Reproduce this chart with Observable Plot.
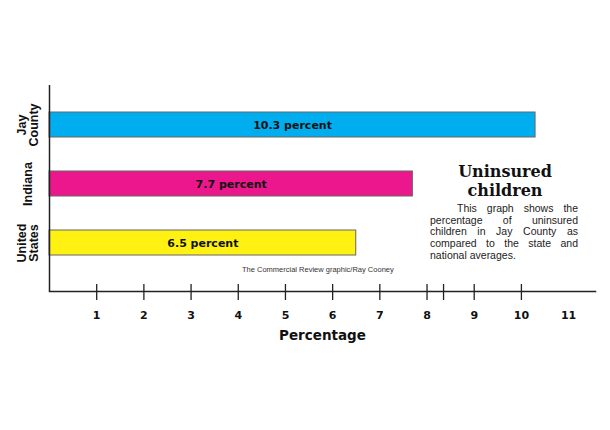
<!DOCTYPE html>
<html>
<head>
<meta charset="utf-8">
<script src="https://cdn.jsdelivr.net/npm/d3@7"></script>
<script src="https://cdn.jsdelivr.net/npm/@observablehq/plot@0.6"></script>
<style>
  body { margin: 0; background: #fff; }
  #wrap { position: relative; width: 610px; height: 430px; }
  #title { position: absolute; left: 430px; width: 150px; top: 162px; text-align: center;
    font-family: "DejaVu Serif", serif; font-weight: bold; font-size: 16px; line-height: 19px; color: #111; }
  #desc { position: absolute; left: 430px; width: 148px; top: 203px; text-align: justify;
    font-family: "Liberation Sans", Arial, sans-serif; font-size: 10.5px; line-height: 11.7px; color: #222; }
  #desc p { margin: 0; text-indent: 27px; }
  #credit { position: absolute; left: 242px; top: 265px; font-family: "Liberation Sans", Arial, sans-serif;
    font-size: 7.5px; color: #333; white-space: nowrap; }
</style>
</head>
<body>
<div id="wrap">
  <div id="chart"></div>
  <div id="title">Uninsured<br>children</div>
  <div id="desc"><p>This graph shows the percentage of uninsured children in Jay County as compared to the state and national averages.</p></div>
  <div id="credit">The Commercial Review graphic/Ray Cooney</div>
</div>
<script>
const categories = ["Jay County", "Indiana", "United States"];
const axisLabels = ["Jay\nCounty", "Indiana", "United\nStates"];
const values = [10.3, 7.7, 6.5];
const colors = ["#00AEEF", "#EC178C", "#FFF212"];
const tickMarks = [1, 2, 3, 4, 5, 6, 7, 8, 8.35, 9, 10];
const tickLabels = [1, 2, 3, 4, 5, 6, 7, 8, 9, 10, 11];

const data = categories.map((c, i) => ({category: c, label: axisLabels[i], value: values[i], color: colors[i]}));

const chart = Plot.plot({
  width: 610,
  height: 430,
  marginLeft: 49,
  marginRight: 15,
  marginTop: 85,
  marginBottom: 139,
  x: {domain: [0, 11.57], axis: null},
  y: {domain: categories, axis: null, paddingInner: 0.58, paddingOuter: 0.52, align: 0.43},
  style: {fontFamily: "'DejaVu Sans', sans-serif", background: "#fff"},
  marks: [
    Plot.barX(data, {y: "category", x: "value", fill: "color", stroke: "#666", strokeWidth: 1}),
    Plot.text(data, {y: "category", x: d => d.value / 2, text: d => `${d.value} percent`,
      fontWeight: "bold", fontSize: 11, fill: "#111"}),
    Plot.text(data, {y: "category", text: "label", frameAnchor: "left", textAnchor: "middle", dx: -21, rotate: -90,
      fontFamily: "'Liberation Sans', Arial, sans-serif", fontWeight: "bold", fontSize: 12.5, lineHeight: 0.95, fill: "#111"}),
    Plot.ruleX([0], {stroke: "#222", strokeWidth: 1.5}),
    Plot.frame({anchor: "bottom", stroke: "#222", strokeWidth: 1.5}),
    Plot.ruleX(tickMarks, {x: d => d, insetTop: 199, insetBottom: -9, stroke: "#222", strokeWidth: 1.3}),
    Plot.text(tickLabels, {x: d => d, text: d => String(d), frameAnchor: "bottom", dy: 27,
      fontWeight: "bold", fontSize: 11, fill: "#111"}),
    Plot.text(["Percentage"], {frameAnchor: "bottom", dy: 48, fontWeight: "bold", fontSize: 13.5, fill: "#111"})
  ]
});
document.getElementById("chart").appendChild(chart);
</script>
</body>
</html>
